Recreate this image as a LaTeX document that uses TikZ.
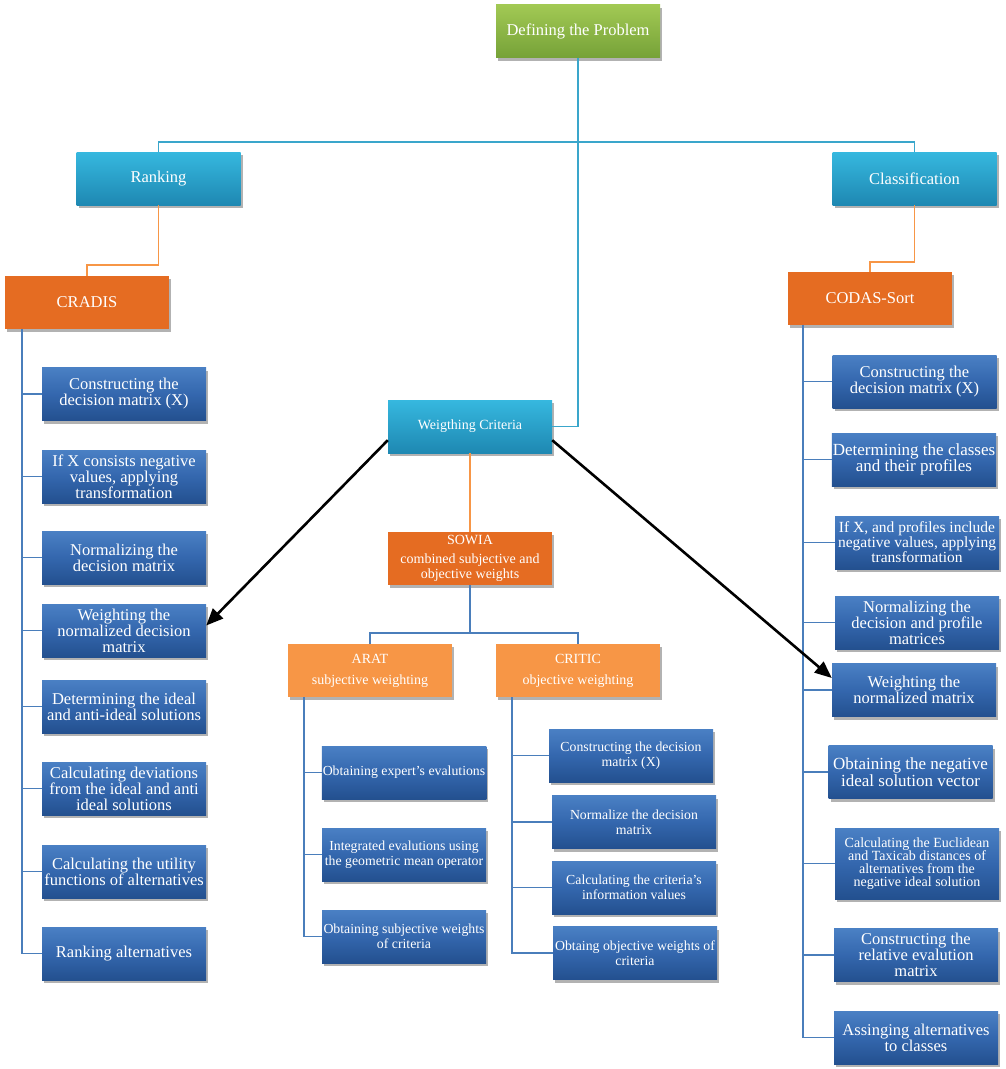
\documentclass[tikz,border=0pt]{standalone}
\usepackage{fontspec}
\setmainfont{Liberation Serif}
\usetikzlibrary{shadows,arrows.meta}
\definecolor{stepTop}{HTML}{4A80C4}
\definecolor{stepMid}{HTML}{3467AE}
\definecolor{stepBot}{HTML}{23508F}
\definecolor{cyanTop}{HTML}{36B8DF}
\definecolor{cyanBot}{HTML}{1E88B2}
\definecolor{greenTop}{HTML}{A2C954}
\definecolor{greenBot}{HTML}{76A238}
\definecolor{darkOrange}{HTML}{E56C22}
\definecolor{lightOrange}{HTML}{F79646}
\definecolor{cyanLine}{HTML}{3AA6CB}
\definecolor{orangeLine}{HTML}{F79646}
\definecolor{blueLine}{HTML}{4A7EBB}
\tikzset{
  boxbase/.style={minimum width=164pt, minimum height=53pt, inner sep=1pt, align=center,
    text=white, drop shadow={shadow xshift=2pt, shadow yshift=-3pt, opacity=0.3, fill=black}},
  stepbox/.style={boxbase, top color=stepTop, bottom color=stepBot, middle color=stepMid,
    font=\fontsize{16.5}{16}\selectfont},
  smallstep/.style={stepbox, font=\fontsize{13.8}{15}\selectfont},
  cyanbox/.style={boxbase, top color=cyanTop, bottom color=cyanBot, font=\fontsize{16.5}{17}\selectfont},
  greenbox/.style={boxbase, top color=greenTop, bottom color=greenBot, font=\fontsize{16.5}{17}\selectfont},
  darkbox/.style={boxbase, fill=darkOrange, font=\fontsize{16.5}{17}\selectfont},
  lightbox/.style={boxbase, fill=lightOrange, font=\fontsize{14}{16}\selectfont},
  cline/.style={draw=cyanLine, line width=1.8pt},
  oline/.style={draw=orangeLine, line width=1.8pt},
  bline/.style={draw=blueLine, line width=1.8pt},
  bigarrow/.style={draw=black, line width=2.6pt, -{Triangle[length=17pt,width=14pt]}},
}
\begin{document}
\begin{tikzpicture}[x=1pt,y=-1pt]
\useasboundingbox (0,0) rectangle (1005,1069);
% top levels
\node[greenbox] (def) at (578,31) {Defining the Problem};
\node[cyanbox] (rank) at (158.5,178.5) {Ranking};
\node[cyanbox] (class) at (914.5,178.5) {Classification};
\node[darkbox] (cradis) at (87,302.5) {CRADIS};
\node[darkbox] (codas) at (870,298.5) {CODAS-Sort};
\node[cyanbox, font=\fontsize{14}{15}\selectfont] (wc) at (470,426.5) {Weigthing Criteria};
\node[darkbox, font=\fontsize{14}{15}\selectfont] (sowia) at (470,558.5) {SOWIA\\[4pt]combined subjective and\\objective weights};
\node[lightbox] (arat) at (370,670.5) {ARAT\\[5pt]subjective weighting};
\node[lightbox] (critic) at (578,670.5) {CRITIC\\[5pt]objective weighting};
% left steps
\node[stepbox] (l1) at (124,394) {Constructing the\\decision matrix (X)};
\node[stepbox] (l2) at (124,476.5) {If X consists negative\\values, applying\\transformation};
\node[stepbox] (l3) at (124,557.5) {Normalizing the\\decision matrix};
\node[stepbox] (l4) at (124,630.5) {Weighting the\\normalized decision\\matrix};
\node[stepbox] (l5) at (124,706.5) {Determining the ideal\\and anti-ideal solutions};
\node[stepbox] (l6) at (124,788.5) {Calculating deviations\\from the ideal and anti\\ideal solutions};
\node[stepbox] (l7) at (124,871.5) {Calculating the utility\\functions of alternatives};
\node[stepbox] (l8) at (124,953.5) {Ranking alternatives};
% right steps
\node[stepbox] (r1) at (914.5,381.5) {Constructing the\\decision matrix (X)};
\node[stepbox, font=\fontsize{17}{16.5}\selectfont] (r2) at (914,459.5) {Determining the classes\\and their profiles};
\node[stepbox, font=\fontsize{15.5}{15}\selectfont] (r3) at (917,542.5) {If X, and profiles include\\negative values, applying\\transformation};
\node[stepbox] (r4) at (917,622.5) {Normalizing the\\decision and profile\\matrices};
\node[stepbox] (r5) at (914,690) {Weighting the\\normalized matrix};
\node[stepbox, font=\fontsize{17}{16.5}\selectfont] (r6) at (910.5,772) {Obtaining the negative\\ideal solution vector};
\node[stepbox, minimum height=71pt, font=\fontsize{14}{13}\selectfont] (r7) at (917,863.5) {Calculating the Euclidean\\and Taxicab distances of\\alternatives from the\\negative ideal solution};
\node[stepbox] (r8) at (916,955) {Constructing the\\relative evalution\\matrix};
\node[stepbox] (r9) at (916,1037.5) {Assinging alternatives\\to classes};
% ARAT steps
\node[smallstep] (a1) at (404,772.5) {Obtaining expert's evalutions};
\node[smallstep] (a2) at (404,854.5) {Integrated evalutions using\\the geometric mean operator};
\node[smallstep] (a3) at (404,936.5) {Obtaining subjective weights\\of criteria};
% CRITIC steps
\node[smallstep] (c1) at (631,755.5) {Constructing the decision\\matrix (X)};
\node[smallstep] (c2) at (634,822) {Normalize the decision\\matrix};
\node[smallstep] (c3) at (634,887.5) {Calculating the criteria's\\information values};
\node[smallstep] (c4) at (635,953) {Obtaing objective weights of\\criteria};
% connectors top
\coordinate (hub) at (578,142);
\draw[cline] (def.south) -- (hub);
\draw[cline] (rank.north) |- (hub);
\draw[cline] (hub) -| (class.north);
\draw[cline] (hub) |- (wc.east);
\draw[oline] (rank.south) -- ++(0,60) -| (cradis.north);
\draw[oline] (class.south) -- ++(0,57) -| (codas.north);
\draw[oline] (wc.south) -- (sowia.north);
\draw[bline] (sowia.south) -- ++(0,48) -| (arat.north);
\draw[bline] (sowia.south) -- ++(0,48) -| (critic.north);
% step trees
\foreach \n in {l1,l2,l3,l4,l5,l6,l7,l8}
  \draw[bline] ([xshift=17pt]cradis.south west) |- (\n.west);
\foreach \n in {r1,r2,r3,r4,r5,r6,r7,r8,r9}
  \draw[bline] ([xshift=15pt]codas.south west) |- (\n.west);
\foreach \n in {a1,a2,a3}
  \draw[bline] ([xshift=16pt]arat.south west) |- (\n.west);
\foreach \n in {c1,c2,c3,c4}
  \draw[bline] ([xshift=16pt]critic.south west) |- (\n.west);
% arrows
\draw[bigarrow] ([yshift=13pt]wc.south west) -- ([yshift=5pt]l4.east);
\draw[bigarrow] ([yshift=13pt]wc.south east) -- ([yshift=12pt]r5.west);
\end{tikzpicture}
\end{document}
